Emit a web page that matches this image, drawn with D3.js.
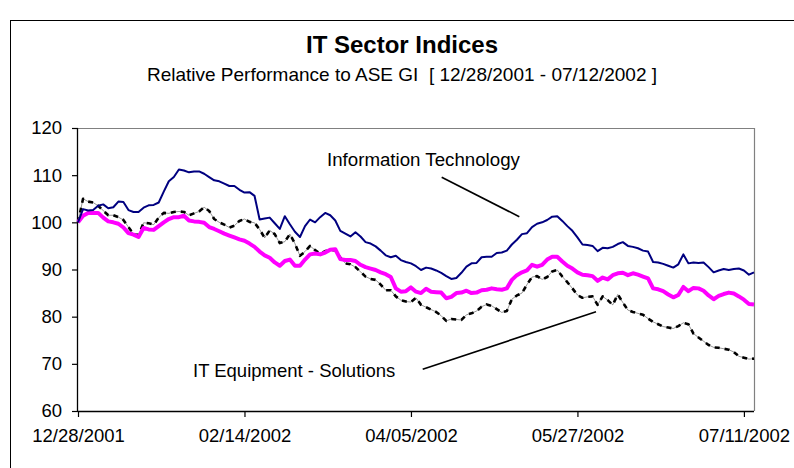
<!DOCTYPE html>
<html><head><meta charset="utf-8">
<script src="https://cdn.jsdelivr.net/npm/d3@7"></script>
<style>
body{margin:0;background:#fff;}
svg text{font-family:"Liberation Sans",Arial,sans-serif;fill:#000;}
</style></head>
<body><svg id="chart" width="794" height="468"></svg>
<script>
// Trading-day index 0..134 (12/28/2001 .. 07/12/2002)
const tickIndex = [0, 33, 66, 99, 132];
const tickLabels = ["12/28/2001", "02/14/2002", "04/05/2002", "05/27/2002", "07/11/2002"];
const yTicks = [60, 70, 80, 90, 100, 110, 120];

const infoTech = [100,102.8,102.5,102.6,103.5,103.8,103,103.2,104.4,104.3,102.6,102.2,102.2,103.1,103.6,103.7,104.2,106.5,108.7,109.6,111.2,111,110.6,110.8,110.8,110.3,109.6,108.9,108.7,108.2,107.7,107.7,106.9,106.3,106.4,105.6,100.6,100.8,101,99.8,98.6,101.3,99.6,98,96.9,99.2,100.6,100,101.1,102,101.5,100.4,98.2,97.6,97,97.9,97,95.8,95.5,94.9,94,93,92.6,92.9,92,91.6,91.3,90.7,89.9,90.4,90.2,89.8,89.3,88.6,88,88.2,89.3,90.6,91.3,91.4,92.6,92.7,92.7,93.5,93.6,94,95.3,96.3,97.5,97.7,99,99.7,100,100.5,101.2,101.3,100.3,99.2,98.2,96.8,95.3,95.2,95,93.9,94.6,94.5,94.8,95.4,95.8,95,94.8,94.5,94,93.8,91.6,91.5,91.2,90.8,90.4,91.1,93.2,91.3,91.5,91.4,91.5,90.5,89.4,89.8,90.1,89.9,90.1,90.2,89.8,88.9,89.4];

const itSector = [100,101.4,102,102,102,101,100.2,100,99.7,98.9,97.7,97.4,96.9,98.8,98.5,98.4,99.2,100,100.7,101.1,101.1,101.4,100.4,100.2,100.1,99.9,99,98.6,98.1,97.6,97.2,96.8,96.4,96.1,95.5,94.8,93.8,93,92.5,91.5,90.8,91.8,92.1,90.8,90.8,92.1,93.2,93.4,93.2,93.6,94.2,94.3,92.2,92,92,91.8,91,90.5,90.2,89.9,89.4,89,88.4,86,85.3,85.4,86.2,85.3,85,85.9,85.3,85.2,85.1,83.9,84.2,85,85.1,85.5,85,85.1,85.6,85.7,86,85.8,85.7,86,87.8,88.8,89.4,89.8,91,90.6,91,92.1,92.7,92.7,91.7,90.8,90.2,89.4,88.9,88.8,88.6,87.6,88.3,87.9,88.8,89.2,89.3,88.8,89.2,88.9,88.5,88.1,86,85.8,85.4,84.7,84.1,84.6,86.3,85.4,86.1,86,85.5,84.5,83.7,84.4,84.8,85.1,84.9,84.3,83.6,82.7,82.6];

const itEquipment = [100,105,104.4,104.2,103.5,102.5,101.5,101.5,101.1,100.5,99,97.5,97.3,99.9,99.8,99.5,101,102,101.9,102.2,102.3,102.2,101.5,101.9,102.3,103.2,102.4,100.7,100,99.5,98.9,99.3,100.3,100.7,100.1,99.9,98.5,96.7,98.3,97.5,95.6,95.9,97.5,95.5,92.9,93.8,95,94.1,93.4,93.9,94.1,94.1,92.5,91.3,91.1,90.5,89.5,88.5,88,87.8,86.8,85.6,85.6,84.3,83.5,83.2,83.1,84,82.5,82,81.5,81,80.2,79.1,79.5,79.4,79.3,80.4,80.7,81.2,82.1,82.6,82.3,81.6,80.9,81.2,83.7,84.5,85,86.8,88.4,88.6,87.9,88.4,89.6,89.9,88.5,87.3,86,84.6,84,84.2,84.3,82.5,84.3,83.5,82.5,84.7,83,81.4,81,80.7,80.4,79.6,78.9,78.4,77.9,77.7,77.5,78,78.7,78.4,76.4,75.6,74.8,74,73.5,73.4,73.2,73,72.5,71.6,71.3,71,71.1];

const titleText = "IT Sector Indices";
const subtitleText = "Relative Performance to ASE GI  [ 12/28/2001 - 07/12/2002 ]";
const labelIT = "Information Technology";
const labelEquip = "IT Equipment - Solutions";

const svg = d3.select("#chart");
const W = 794, H = 468;
const m = {left: 78, top: 128, right: 754, bottom: 411};

// outer frame
svg.append("rect").attr("x", 10.5).attr("y", 20.5).attr("width", W + 10).attr("height", H + 10)
  .attr("fill", "none").attr("stroke", "#000").attr("stroke-width", 1);

const x = d3.scaleLinear().domain([0, infoTech.length - 1]).range([m.left, m.right]);
const y = d3.scaleLinear().domain([60, 120]).range([m.bottom, m.top]);

// plot area border (top/right gray)
svg.append("path")
  .attr("d", `M${m.left},${m.top + 0.5}H${m.right + 0.5}V${m.bottom}`)
  .attr("fill", "none").attr("stroke", "#808080").attr("stroke-width", 1.2);

// titles
svg.append("text").attr("x", 402).attr("y", 53).attr("text-anchor", "middle")
  .style("font-size", "24px").style("font-weight", "bold").text(titleText);
svg.append("text").attr("x", 402).attr("y", 81).attr("text-anchor", "middle")
  .style("font-size", "19px").attr("xml:space", "preserve").style("white-space", "pre").text(subtitleText);

// axes
const yAxis = d3.axisLeft(y).tickValues(yTicks).tickSize(6).tickPadding(10).tickFormat(d3.format("d"));
const gy = svg.append("g").attr("transform", `translate(${m.left},0)`).call(yAxis);
const xAxis = d3.axisBottom(x).tickValues(tickIndex).tickSize(6).tickPadding(12)
  .tickFormat((d, i) => tickLabels[i]);
const gx = svg.append("g").attr("transform", `translate(0,${m.bottom})`).call(xAxis);
[gx, gy].forEach(g => {
  g.select(".domain").attr("stroke", "#000").attr("stroke-width", 1.3);
  g.selectAll(".tick line").attr("stroke", "#000").attr("stroke-width", 1.2);
  g.selectAll("text").style("font-size", "18.5px").style("font-family", "Liberation Sans, Arial, sans-serif").attr("fill", "#000");
});
gx.select(".domain").attr("d", `M${m.left},0.5H${m.right}`);
gy.select(".domain").attr("d", `M-0.5,${m.top}V${m.bottom}`);

const line = d3.line().x((d, i) => x(i)).y(d => y(d));

// IT Equipment - Solutions (dashed black)
svg.append("path").datum(itEquipment).attr("d", line)
  .attr("fill", "none").attr("stroke", "#000").attr("stroke-width", 0.6).attr("stroke-opacity", 0.7);
svg.append("path").datum(itEquipment).attr("d", line)
  .attr("fill", "none").attr("stroke", "#000").attr("stroke-width", 2.6)
  .attr("stroke-dasharray", "5,5").attr("stroke-linejoin", "round");

// IT sector (magenta thick)
svg.append("path").datum(itSector).attr("d", line)
  .attr("fill", "none").attr("stroke", "#FF00FF").attr("stroke-width", 4).attr("stroke-linejoin", "round");

// Information Technology (navy)
svg.append("path").datum(infoTech).attr("d", line)
  .attr("fill", "none").attr("stroke", "#000080").attr("stroke-width", 2).attr("stroke-linejoin", "round");

// annotations
svg.append("text").attr("x", 327).attr("y", 166).style("font-size", "18.7px").text(labelIT);
svg.append("line").attr("x1", 441.7).attr("y1", 177.3).attr("x2", 519.3).attr("y2", 216.7)
  .attr("stroke", "#000").attr("stroke-width", 1.6);
svg.append("text").attr("x", 193).attr("y", 377).style("font-size", "18.5px").text(labelEquip);
svg.append("line").attr("x1", 422.7).attr("y1", 369.3).attr("x2", 596).attr("y2", 311.7)
  .attr("stroke", "#000").attr("stroke-width", 1.6);
</script></body></html>
